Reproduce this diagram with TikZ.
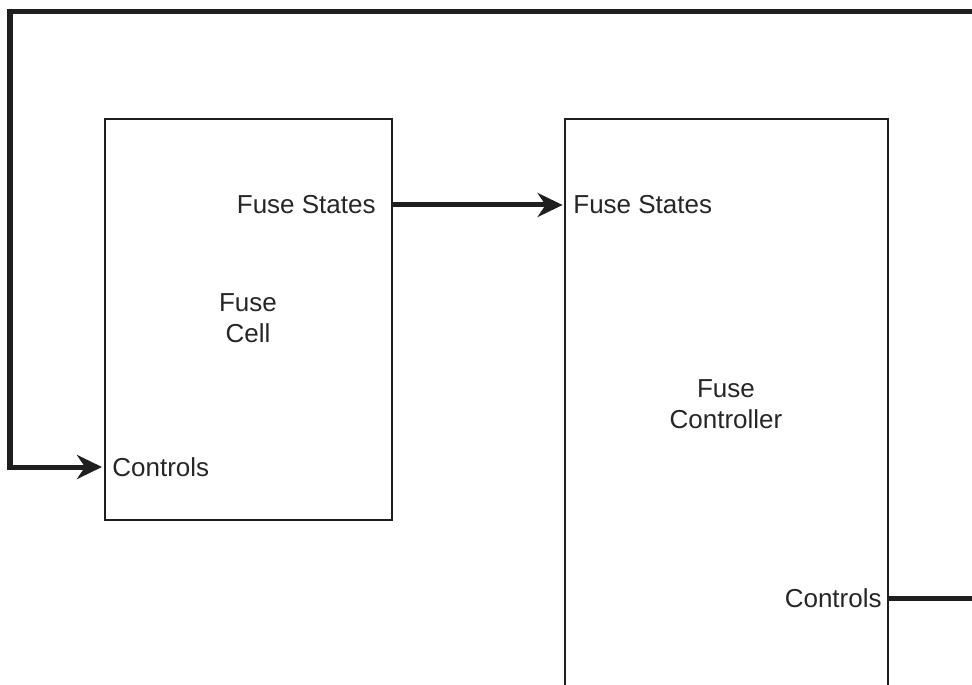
\documentclass[tikz,border=0pt]{standalone}
\usepackage{fontspec}
\setmainfont{Liberation Sans}
\usetikzlibrary{arrows.meta}
\begin{document}
\begin{tikzpicture}[x=0.5bp,y=-0.5bp,
  thinbox/.style={draw=black!88, line width=1bp, inner sep=0pt},
  wire/.style={draw=black!88, line width=2.5bp, line join=miter},
  arr/.style={wire, -{Stealth[length=12.5bp,width=12bp,inset=4bp]}},
  lbl/.style={font=\fontsize{13bp}{15.5bp}\selectfont, text=black!85, inner sep=0pt}]
\useasboundingbox (0,0) rectangle (972,685);
% boxes
\node[thinbox, minimum width=143.5bp, minimum height=200.5bp] (cell) at (248.5,319.5) {};
\node[inner sep=0pt, minimum width=161.5bp, minimum height=290bp] (ctrl) at (726.5,409) {};
\draw[thinbox] (ctrl.south west) -- (ctrl.north west) -- (ctrl.north east) -- (ctrl.south east);
% texts
\node[lbl, align=center] (celltxt) at (248,318) {Fuse\\Cell};
\node[lbl, align=center] (ctrltxt) at (726,404) {Fuse\\Controller};
\node[lbl, anchor=east] (fsout) at (376,205) {Fuse States};
\node[lbl, anchor=west] (fsin) at (573,205) {Fuse States};
\node[lbl, anchor=west] (cin) at (112,467) {Controls};
\node[lbl, anchor=east] (cout) at (882,598) {Controls};
% connectors
\coordinate (topright) at (980,12);
\coordinate (topleft) at (10,12);
\coordinate (rightend) at (980,598);
\draw[arr] (fsout.east -| cell.east) -- ([xshift=-1bp]fsin.west -| ctrl.west);
\draw[arr] (topright) -- (topleft) |- ([xshift=-1bp]cin.west -| cell.west);
\draw[wire] (cout.east -| ctrl.east) -- (cout.east -| rightend);
\end{tikzpicture}
\end{document}
